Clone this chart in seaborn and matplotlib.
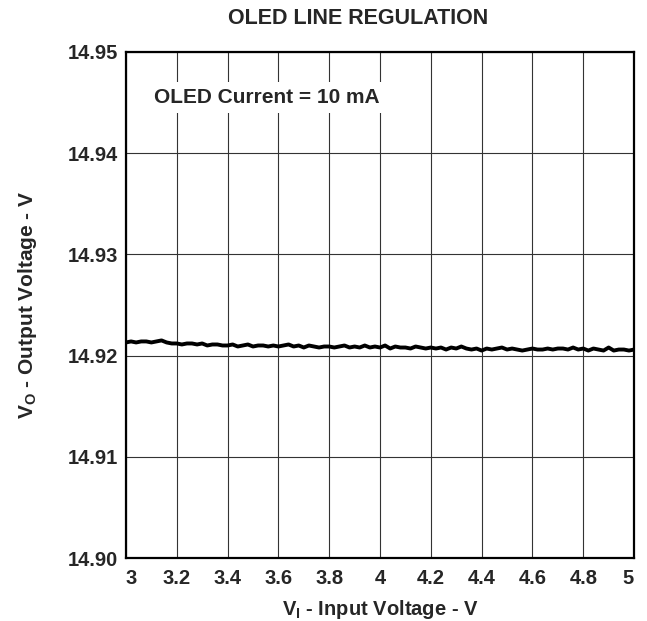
import numpy as np
import pandas as pd
import matplotlib
matplotlib.use("Agg")
import matplotlib.pyplot as plt
import seaborn as sns

vout = [14.9213, 14.9214, 14.9213, 14.9214, 14.9214, 14.9213, 14.9214, 14.9215, 14.9213, 14.9212,
        14.9212, 14.9211, 14.9212, 14.9212, 14.9211, 14.9212, 14.9210, 14.9211, 14.9211, 14.9210,
        14.9210, 14.9211, 14.9209, 14.9210, 14.9211, 14.9209, 14.9210, 14.9210, 14.9209, 14.9210,
        14.9209, 14.9210, 14.9211, 14.9209, 14.9210, 14.9208, 14.9210, 14.9209, 14.9208, 14.9209,
        14.9209, 14.9208, 14.9209, 14.9210, 14.9208, 14.9209, 14.9208, 14.9210, 14.9208, 14.9209,
        14.9208, 14.9210, 14.9207, 14.9209, 14.9208, 14.9208, 14.9207, 14.9209, 14.9208, 14.9207,
        14.9208, 14.9207, 14.9208, 14.9206, 14.9208, 14.9207, 14.9209, 14.9207, 14.9206, 14.9207,
        14.9205, 14.9207, 14.9206, 14.9207, 14.9208, 14.9206, 14.9207, 14.9206, 14.9205, 14.9206,
        14.9207, 14.9206, 14.9206, 14.9207, 14.9206, 14.9207, 14.9207, 14.9206, 14.9208, 14.9206,
        14.9207, 14.9205, 14.9207, 14.9206, 14.9205, 14.9208, 14.9205, 14.9206, 14.9206, 14.9205,
        14.9206]
vin = np.linspace(3.0, 5.0, len(vout))

xticks = [3, 3.2, 3.4, 3.6, 3.8, 4, 4.2, 4.4, 4.6, 4.8, 5]
xticklabels = ["3", "3.2", "3.4", "3.6", "3.8", "4", "4.2", "4.4", "4.6", "4.8", "5"]
yticks = [14.90, 14.91, 14.92, 14.93, 14.94, 14.95]
yticklabels = ["14.90", "14.91", "14.92", "14.93", "14.94", "14.95"]

sns.set_style("white")
plt.rcParams["font.family"] = ["Liberation Sans", "DejaVu Sans"]
plt.rcParams["font.weight"] = "bold"
plt.rcParams["mathtext.fontset"] = "custom"
plt.rcParams["mathtext.rm"] = "Liberation Sans:bold"
plt.rcParams["mathtext.it"] = "Liberation Sans:bold"
plt.rcParams["mathtext.bf"] = "Liberation Sans:bold"

df = pd.DataFrame({"vin": vin, "vout": vout})

fig = plt.figure(figsize=(6.47, 6.21), dpi=100)
ax = fig.add_axes([0.1947, 0.1014, 0.7853, 0.8149])

sns.lineplot(data=df, x="vin", y="vout", ax=ax, color="black", linewidth=2.8)

ax.set_xlim(3, 5)
ax.set_ylim(14.90, 14.95)
ax.set_xticks(xticks)
ax.set_xticklabels(xticklabels, fontsize=14.5, fontweight="bold")
# end labels sit inside the axis span
ax.get_xticklabels()[0].set_ha("left")
ax.get_xticklabels()[-1].set_ha("right")
ax.set_yticks(yticks)
ax.set_yticklabels(yticklabels, fontsize=14.5, fontweight="bold")
ax.tick_params(axis="x", length=0, pad=8)
ax.tick_params(axis="y", length=0, pad=6)
ax.grid(True, color="#333333", linewidth=0.8)
for s in ax.spines.values():
    s.set_linewidth(1.6)
    s.set_color("black")

ax.set_xlabel(r"$\mathrm{V_I}$ - Input Voltage - V", fontsize=14.5, fontweight="bold", labelpad=7)
ax.set_ylabel(r"$\mathrm{V_O}$ - Output Voltage - V", fontsize=15, fontweight="bold", labelpad=20)
fig.text(0.553, 0.971, "OLED LINE REGULATION", fontsize=15.5, fontweight="bold",
         ha="center", va="center")

ax.text(3.11, 14.9455, "OLED Current = 10 mA", fontsize=15, fontweight="bold",
        va="center", ha="left",
        bbox=dict(facecolor="white", edgecolor="none", pad=4))

fig.savefig("out.png", dpi=100)
